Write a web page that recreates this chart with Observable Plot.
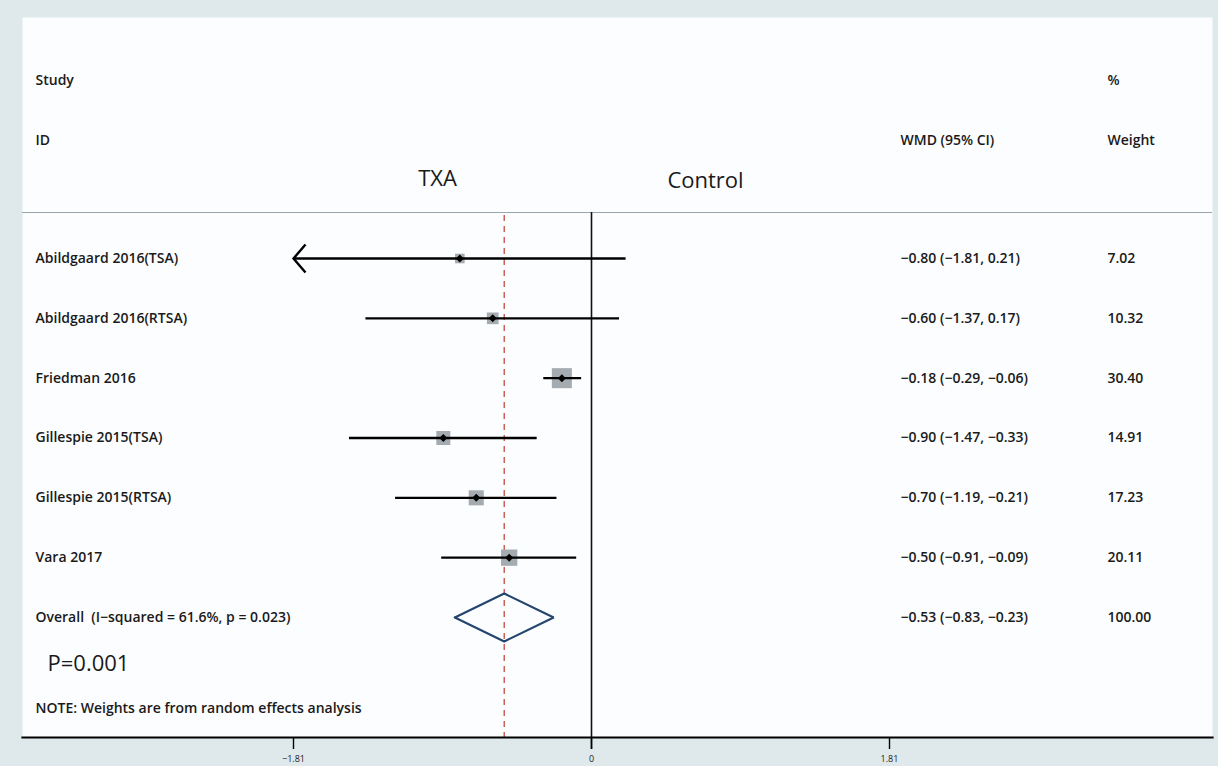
<!DOCTYPE html>
<html>
<head>
<meta charset="utf-8">
<script src="https://cdn.jsdelivr.net/npm/d3@7"></script>
<script src="https://cdn.jsdelivr.net/npm/@observablehq/plot@0.6"></script>
<style>
  html, body { margin: 0; padding: 0; background: #dfe9ec; overflow: hidden; }
  #chart svg { display: block; }
</style>
</head>
<body>
<div id="chart"></div>
<script>
// ---- data ----
const studies = ["Abildgaard 2016(TSA)", "Abildgaard 2016(RTSA)", "Friedman 2016", "Gillespie 2015(TSA)", "Gillespie 2015(RTSA)", "Vara 2017"];
const wmd     = [-0.80, -0.60, -0.18, -0.90, -0.70, -0.50];
const lower   = [-1.81, -1.37, -0.29, -1.47, -1.19, -0.91];
const upper   = [ 0.21,  0.17, -0.06, -0.33, -0.21, -0.09];
const weight  = [ 7.02, 10.32, 30.40, 14.91, 17.23, 20.11];

const overallLabel = "Overall  (I\u2212squared = 61.6%, p = 0.023)";
const overallWmd = -0.53, overallLower = -0.83, overallUpper = -0.23, overallWeight = 100.00;

const axisTicks = [-1.81, 0, 1.81];
const axisMin = -1.81;
const pText = "P=0.001";
const noteText = "NOTE: Weights are from random effects analysis";
const groupLeft = "TXA", groupRight = "Control";

// ---- build table ----
const minus = s => s.replace(/-/g, "\u2212");
const f2 = v => minus(v.toFixed(2));
const rows = studies.map((s, i) => ({
  i, name: s, wmd: wmd[i], lo: lower[i], hi: upper[i], w: weight[i],
  ci: `${f2(wmd[i])} (${f2(lower[i])}, ${f2(upper[i])})`,
  wt: weight[i].toFixed(2)
}));
const oi = studies.length;
const overallRow = {i: oi, name: overallLabel, ci: `${f2(overallWmd)} (${f2(overallLower)}, ${f2(overallUpper)})`, wt: overallWeight.toFixed(2)};
const allRows = [...rows, overallRow];
const dh = 0.4; // diamond half-height in row units
const diamond = [
  {x: overallLower, y: oi}, {x: overallWmd, y: oi - dh}, {x: overallUpper, y: oi},
  {x: overallWmd, y: oi + dh}, {x: overallLower, y: oi}
];

const chevron = {
  draw(ctx) { ctx.moveTo(12, -14); ctx.lineTo(0, 0); ctx.lineTo(12, 14); }
};

const font = "Open Sans, Lato, sans-serif";
const txt = "#1a1a1a";
const fs = 14;

const chart = Plot.plot({
  width: 1218,
  height: 766,
  marginTop: 17,
  marginLeft: 22,
  marginRight: 6,
  marginBottom: 29,
  style: {background: "#dfe9ec", fontFamily: font, color: txt, overflow: "visible"},
  x: {domain: [-1.81, 1.81], range: [293, 889], axis: null},
  y: {domain: [0, oi], range: [258, 617], axis: null},
  r: {type: "sqrt", domain: [0, 30.4], range: [0, 11.3]},
  marks: [
    Plot.frame({fill: "#fcfdfe", stroke: "none"}),
    // header rule
    Plot.ruleY([0], {y: 0, dy: -46, stroke: "#9aa6ab", strokeWidth: 1.2}),
    // headers
    Plot.text(["Study"], {frameAnchor: "top-left", dx: 13, dy: 63, lineAnchor: "middle", textAnchor: "start", fontSize: fs, fontWeight: 600, fill: txt}),
    Plot.text(["ID"], {frameAnchor: "top-left", dx: 13, dy: 123, lineAnchor: "middle", textAnchor: "start", fontSize: fs, fontWeight: 600, fill: txt}),
    Plot.text(["%"], {frameAnchor: "top-left", dx: 1085, dy: 63, lineAnchor: "middle", textAnchor: "start", fontSize: fs, fontWeight: 600, fill: txt}),
    Plot.text(["Weight"], {frameAnchor: "top-left", dx: 1085, dy: 123, lineAnchor: "middle", textAnchor: "start", fontSize: fs, fontWeight: 600, fill: txt}),
    Plot.text(["WMD (95% CI)"], {frameAnchor: "top-left", dx: 878, dy: 123, lineAnchor: "middle", textAnchor: "start", fontSize: fs, fontWeight: 600, fill: txt}),
    Plot.text([groupLeft], {frameAnchor: "top-left", dx: 415, dy: 161, lineAnchor: "middle", textAnchor: "middle", fontSize: 22, fill: txt}),
    Plot.text([groupRight], {frameAnchor: "top-left", dx: 683, dy: 163, lineAnchor: "middle", textAnchor: "middle", fontSize: 22, fill: txt}),
    // reference lines
    Plot.ruleX([0], {insetTop: 195, insetBottom: -12, stroke: "#111", strokeWidth: 1.6}),
    Plot.ruleX([overallWmd], {insetTop: 198, stroke: "#c55a4e", strokeWidth: 1.4, strokeDasharray: "6,5"}),
    // weight squares
    Plot.dot(rows, {x: "wmd", y: "i", r: "w", symbol: "square", fill: "#a4abb1", stroke: "none"}),
    // CI lines
    Plot.ruleY(rows, {y: "i", x1: d => Math.max(d.lo, axisMin), x2: "hi", stroke: "#000", strokeWidth: 2.4}),
    Plot.dot(rows.filter(d => d.lo <= axisMin), {x: () => axisMin, y: "i", symbol: chevron, r: 5, fill: "none", stroke: "#000", strokeWidth: 2.4}),
    // point estimates
    Plot.dot(rows, {x: "wmd", y: "i", symbol: "diamond2", r: 3.6, fill: "#000", stroke: "none"}),
    // overall diamond
    Plot.line(diamond, {x: "x", y: "y", stroke: "#24466e", strokeWidth: 2.2, strokeLinejoin: "miter"}),
    // row labels
    Plot.text(allRows, {y: "i", text: "name", frameAnchor: "left", dx: 13, textAnchor: "start", fontSize: fs, fontWeight: 600, fill: txt}),
    Plot.text(allRows, {y: "i", text: "ci", frameAnchor: "left", dx: 878, textAnchor: "start", fontSize: fs, fontWeight: 600, fill: txt}),
    Plot.text(allRows, {y: "i", text: "wt", frameAnchor: "left", dx: 1085, textAnchor: "start", fontSize: fs, fontWeight: 600, fill: txt}),
    Plot.text([pText], {y: () => oi, dy: 46, frameAnchor: "left", dx: 25, textAnchor: "start", fontSize: 22, fill: txt}),
    Plot.text([noteText], {y: () => oi, dy: 91, frameAnchor: "left", dx: 13, textAnchor: "start", fontSize: fs, fontWeight: 600, fill: txt}),
    // x axis
    Plot.frame({anchor: "bottom", stroke: "#000", strokeWidth: 2.2}),
    Plot.axisX({ticks: axisTicks, tickSize: 12, tickPadding: 6, tickFormat: d => d === 0 ? "0" : minus(d.toFixed(2)), fontSize: 9, strokeWidth: 1.4, stroke: "#000", fill: txt})
  ]
});
document.getElementById("chart").appendChild(chart);
</script>
</body>
</html>
